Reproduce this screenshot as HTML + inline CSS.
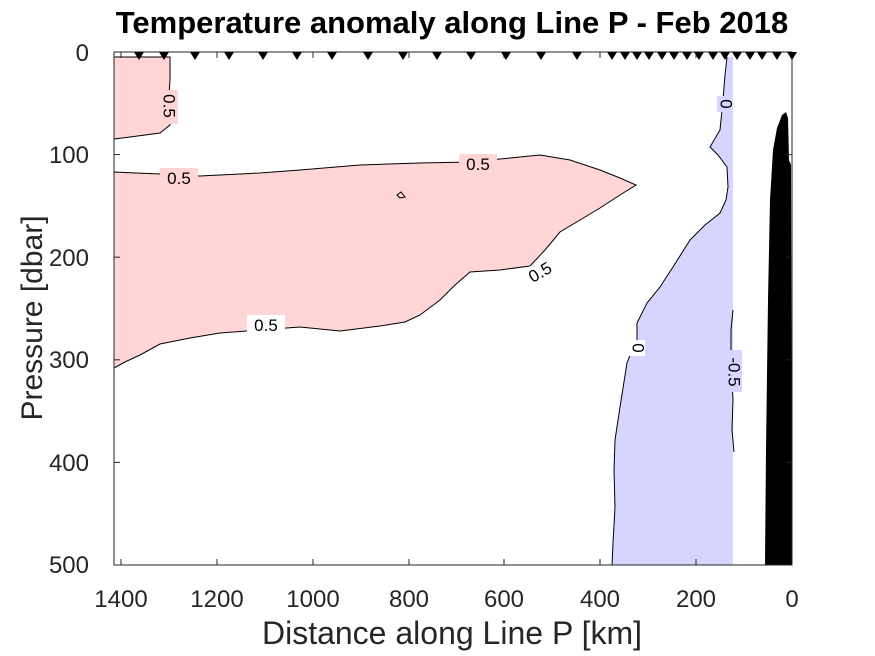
<!DOCTYPE html>
<html><head><meta charset="utf-8"><style>
html,body{margin:0;padding:0;background:#fff;}
svg{display:block;font-family:"Liberation Sans",Arial,sans-serif;}
</style></head><body>
<svg width="875" height="656" viewBox="0 0 875 656">
<rect width="875" height="656" fill="#fff"/>
<path d="M114,57 L170,57 L170,80 L168,110 L170,125 L160,133 L130,137 L114,139 Z" fill="#ffd5d5" stroke="#000" stroke-width="1"/>
<path d="M114,172 L160,174 L200,176 L260,173 L300,170 L360,165 L420,163 L470,162 L510,158 L540,155 L570,160 L600,170 L620,178 L636,185 L620,195 L600,208 L580,220 L560,232 L545,250 L530,266 L500,270 L470,272 L455,285 L440,300 L420,315 L405,322 L380,326 L340,331 L300,327 L260,330 L220,333 L190,338 L160,344 L140,355 L125,362 L114,368 Z" fill="#ffd5d5" stroke="#000" stroke-width="1"/>
<path d="M397,195 L401,192 L405,197 L400,198 Z" fill="none" stroke="#000" stroke-width="1"/>
<path d="M727,57 L733,57 L733,565 L612,565 L613,543 L615,507 L614,470 L615,440 L620,407 L627,363 L632,350 L637,340 L637,323 L647,303 L660,287 L673,267 L690,240 L705,225 L720,213 L726,200 L728,187 L727,167 L718,155 L710,147 L720,130 L723,100 L725,75 Z" fill="#d5d5ff"/>
<path d="M727,57 L725,75 L723,100 L720,130 L710,147 L718,155 L727,167 L728,187 L726,200 L720,213 L705,225 L690,240 L673,267 L660,287 L647,303 L637,323 L637,340 L632,350 L627,363 L620,407 L615,440 L614,470 L615,507 L613,543 L612,565" fill="none" stroke="#000" stroke-width="1"/>
<path d="M733,310 L731,330 L731,360 L733,400 L732,430 L734,452" fill="none" stroke="#000" stroke-width="1"/>
<path d="M765,565 L766,450 L768,300 L770,200 L773,150 L777,128 L782,115 L786,112 L788,118 L789,160 L791,165 L792,565 Z" fill="#000"/>
<g font-size="17" fill="#000">
<rect x="160" y="90" width="18" height="34" fill="#ffd5d5"/>
<text x="168" y="106" transform="rotate(90 168 106)" text-anchor="middle" dominant-baseline="middle">0.5</text>
<rect x="160" y="168" width="38" height="18" fill="#ffd5d5"/>
<text x="179" y="184" text-anchor="middle">0.5</text>
<rect x="459" y="154" width="38" height="18" fill="#ffd5d5"/>
<text x="478" y="170" text-anchor="middle">0.5</text>
<rect x="247" y="315" width="38" height="18" fill="#fff"/>
<text x="266" y="331" text-anchor="middle">0.5</text>
<rect x="522" y="262" width="38" height="20" fill="#fff" transform="rotate(-30 540 272)"/>
<text x="540" y="278" text-anchor="middle" transform="rotate(-30 540 272)">0.5</text>
<rect x="717" y="96" width="16" height="16" fill="#d5d5ff"/>
<text x="725" y="104" transform="rotate(90 725 104)" text-anchor="middle" dominant-baseline="middle">0</text>
<rect x="629" y="340" width="16" height="16" fill="#fff"/>
<text x="637" y="348" transform="rotate(90 637 348)" text-anchor="middle" dominant-baseline="middle">0</text>
<rect x="724" y="350" width="18" height="42" fill="#d5d5ff"/>
<text x="733" y="372" transform="rotate(90 733 372)" text-anchor="middle" dominant-baseline="middle">-0.5</text>
</g>
<rect x="114" y="52" width="678" height="513" fill="none" stroke="#262626" stroke-width="1"/>
<g stroke="#262626" stroke-width="1">
<line x1="114" y1="154.6" x2="120" y2="154.6"/><line x1="114" y1="257.2" x2="120" y2="257.2"/><line x1="114" y1="359.8" x2="120" y2="359.8"/><line x1="114" y1="462.4" x2="120" y2="462.4"/>
<line x1="786" y1="154.6" x2="792" y2="154.6"/><line x1="786" y1="257.2" x2="792" y2="257.2"/><line x1="786" y1="359.8" x2="792" y2="359.8"/><line x1="786" y1="462.4" x2="792" y2="462.4"/>
<line x1="121" y1="565" x2="121" y2="559"/><line x1="217" y1="565" x2="217" y2="559"/><line x1="313" y1="565" x2="313" y2="559"/><line x1="409" y1="565" x2="409" y2="559"/><line x1="504" y1="565" x2="504" y2="559"/><line x1="600" y1="565" x2="600" y2="559"/><line x1="696" y1="565" x2="696" y2="559"/>
<line x1="121" y1="52" x2="121" y2="58"/><line x1="217" y1="52" x2="217" y2="58"/><line x1="313" y1="52" x2="313" y2="58"/><line x1="409" y1="52" x2="409" y2="58"/><line x1="504" y1="52" x2="504" y2="58"/><line x1="600" y1="52" x2="600" y2="58"/><line x1="696" y1="52" x2="696" y2="58"/>
</g>
<g fill="#000">
<path d="M-5,52 L5,52 L0,60 Z" transform="translate(139,0)"/>
<path d="M-5,52 L5,52 L0,60 Z" transform="translate(164,0)"/>
<path d="M-5,52 L5,52 L0,60 Z" transform="translate(195,0)"/>
<path d="M-5,52 L5,52 L0,60 Z" transform="translate(229,0)"/>
<path d="M-5,52 L5,52 L0,60 Z" transform="translate(263,0)"/>
<path d="M-5,52 L5,52 L0,60 Z" transform="translate(297,0)"/>
<path d="M-5,52 L5,52 L0,60 Z" transform="translate(332,0)"/>
<path d="M-5,52 L5,52 L0,60 Z" transform="translate(368,0)"/>
<path d="M-5,52 L5,52 L0,60 Z" transform="translate(403,0)"/>
<path d="M-5,52 L5,52 L0,60 Z" transform="translate(437,0)"/>
<path d="M-5,52 L5,52 L0,60 Z" transform="translate(471,0)"/>
<path d="M-5,52 L5,52 L0,60 Z" transform="translate(506,0)"/>
<path d="M-5,52 L5,52 L0,60 Z" transform="translate(541,0)"/>
<path d="M-5,52 L5,52 L0,60 Z" transform="translate(577,0)"/>
<path d="M-5,52 L5,52 L0,60 Z" transform="translate(612,0)"/>
<path d="M-5,52 L5,52 L0,60 Z" transform="translate(625,0)"/>
<path d="M-5,52 L5,52 L0,60 Z" transform="translate(637,0)"/>
<path d="M-5,52 L5,52 L0,60 Z" transform="translate(649,0)"/>
<path d="M-5,52 L5,52 L0,60 Z" transform="translate(662,0)"/>
<path d="M-5,52 L5,52 L0,60 Z" transform="translate(674,0)"/>
<path d="M-5,52 L5,52 L0,60 Z" transform="translate(687,0)"/>
<path d="M-5,52 L5,52 L0,60 Z" transform="translate(699,0)"/>
<path d="M-5,52 L5,52 L0,60 Z" transform="translate(713,0)"/>
<path d="M-5,52 L5,52 L0,60 Z" transform="translate(725,0)"/>
<path d="M-5,52 L5,52 L0,60 Z" transform="translate(737,0)"/>
<path d="M-5,52 L5,52 L0,60 Z" transform="translate(750,0)"/>
<path d="M-5,52 L5,52 L0,60 Z" transform="translate(762,0)"/>
<path d="M-5,52 L5,52 L0,60 Z" transform="translate(777,0)"/>
<path d="M-5,52 L5,52 L0,60 Z" transform="translate(792,0)"/>
</g>
<g font-size="24" fill="#262626" text-anchor="end">
<text x="89" y="61">0</text><text x="89" y="163">100</text><text x="89" y="266">200</text><text x="89" y="368">300</text><text x="89" y="471">400</text><text x="89" y="573">500</text>
</g>
<g font-size="24" fill="#262626" text-anchor="middle">
<text x="121" y="607">1400</text><text x="217" y="607">1200</text><text x="313" y="607">1000</text><text x="409" y="607">800</text><text x="504" y="607">600</text><text x="600" y="607">400</text><text x="696" y="607">200</text><text x="792" y="607">0</text>
</g>
<text x="452" y="644" font-size="32" fill="#262626" text-anchor="middle">Distance along Line P [km]</text>
<text x="42" y="318" font-size="30" fill="#262626" text-anchor="middle" transform="rotate(-90 42 318)">Pressure [dbar]</text>
<text x="452" y="33" font-size="31" font-weight="bold" fill="#000" text-anchor="middle">Temperature anomaly along Line P - Feb 2018</text>
</svg>
</body></html>
